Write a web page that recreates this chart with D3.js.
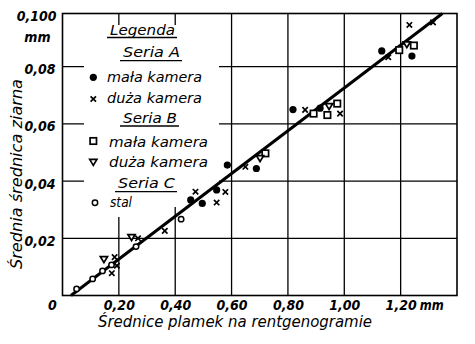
<!DOCTYPE html>
<html><head><meta charset="utf-8">
<script src="https://cdn.jsdelivr.net/npm/d3@7"></script>
<style>
html,body{margin:0;padding:0;background:#fff;}
svg{display:block;}
text{font-family:"DejaVu Sans Condensed","DejaVu Sans",sans-serif;font-style:italic;fill:#000;}
</style></head>
<body>
<svg id="chart" width="475" height="344"></svg>
<script>
// ---- data ----
const xTicks = [0.2, 0.4, 0.6, 0.8, 1.0, 1.2];
const xTickLabels = ["0,20", "0,40", "0,60", "0,80", "1,00", "1,20"];
const yTicks = [0.02, 0.04, 0.06, 0.08];
const yTickLabels = ["0,02", "0,04", "0,06", "0,08"];
const yTopLabel = "0,100";
const unitLabel = "mm";
const xTitle = "Średnice plamek na rentgenogramie";
const yTitle = "Średnia średnica ziarna";

const seriesA_mala_x = [0.455, 0.496, 0.547, 0.585, 0.688, 0.818, 0.914, 1.133, 1.240];
const seriesA_mala_y = [0.0334, 0.0322, 0.0369, 0.0456, 0.0444, 0.0650, 0.0655, 0.0855, 0.0837];
const seriesA_duza_x = [0.175, 0.193, 0.185, 0.268, 0.363, 0.472, 0.547, 0.578, 0.649, 0.861, 0.985, 1.156, 1.231, 1.315];
const seriesA_duza_y = [0.0078, 0.0104, 0.0134, 0.0200, 0.0226, 0.0363, 0.0325, 0.0362, 0.0450, 0.0649, 0.0636, 0.0833, 0.0946, 0.0955];
const seriesB_mala_x = [0.891, 0.940, 0.975, 0.720, 1.195, 1.247];
const seriesB_mala_y = [0.0636, 0.0631, 0.0671, 0.0497, 0.0858, 0.0874];
const seriesB_duza_x = [0.147, 0.245, 0.701, 0.946, 1.222];
const seriesB_duza_y = [0.0126, 0.0203, 0.0479, 0.0661, 0.0877];
const seriesC_stal_x = [0.050, 0.107, 0.142, 0.174, 0.261, 0.421];
const seriesC_stal_y = [0.0023, 0.0058, 0.0086, 0.0107, 0.0171, 0.0267];
const fitLine_x = [0.03, 1.348];
const fitLine_y = [0.0, 0.0986];

const legendHeads = ["Legenda", "Seria A", "Seria B", "Seria C"];
const legendItems = ["mała kamera", "duża kamera", "mała kamera", "duża kamera", "stal"];

// ---- layout ----
const W = 475, H = 344;
const L = 62.5, R = 457, T = 13.5, B = 295.5;
const x = d3.scaleLinear().domain([0, 1.4]).range([L, R]);
const y = d3.scaleLinear().domain([0, 0.0986]).range([B, T]);
const tickFont = '"DejaVu Sans Condensed","DejaVu Sans",sans-serif';

const svg = d3.select("#chart");
svg.append("rect").attr("width", W).attr("height", H).attr("fill", "#fff");

// grid
const grid = svg.append("g").attr("stroke", "#000").attr("stroke-width", 1.3);
grid.selectAll("line.v").data(xTicks).join("line")
  .attr("x1", d => x(d)).attr("x2", d => x(d)).attr("y1", T).attr("y2", B);
grid.selectAll("line.h").data(yTicks).join("line")
  .attr("y1", d => y(d)).attr("y2", d => y(d)).attr("x1", L).attr("x2", R);

// legend background mask
svg.append("rect").attr("x", 84).attr("y", 25).attr("width", 135).attr("height", 182).attr("fill", "#fff");
svg.append("rect").attr("x", 84).attr("y", 200).attr("width", 86).attr("height", 17).attr("fill", "#fff");

// frame
svg.append("rect").attr("x", L).attr("y", T).attr("width", R - L).attr("height", B - T)
  .attr("fill", "none").attr("stroke", "#000").attr("stroke-width", 1.6);

// axis tick labels via d3 axes
const xAxis = d3.axisBottom(x).tickValues(xTicks).tickSize(0).tickPadding(0)
  .tickFormat((d, i) => xTickLabels[i]);
const gx = svg.append("g").attr("transform", `translate(0,${B})`).call(xAxis);
gx.select(".domain").remove();
gx.selectAll("text").attr("y", 14.5).attr("dy", 0)
  .style("font-family", tickFont)
  .style("font-style", "italic").style("font-weight", "bold").style("font-size", "14px").attr("fill", "#000");

const yAxis = d3.axisLeft(y).tickValues(yTicks).tickSize(0).tickPadding(0)
  .tickFormat((d, i) => yTickLabels[i]);
const gy = svg.append("g").attr("transform", `translate(${L - 7},0)`).call(yAxis);
gy.select(".domain").remove();
gy.selectAll("text").attr("dy", "0.72em").attr("y", -3)
  .style("font-family", tickFont)
  .style("font-style", "italic").style("font-weight", "bold").style("font-size", "14px").attr("fill", "#000");

svg.append("text").attr("x", L - 6).attr("y", y.range()[1] + 7).attr("text-anchor", "end")
  .style("font-weight", "bold").style("font-size", "14px").text(yTopLabel);
svg.append("text").attr("x", L - 12).attr("y", y.range()[1] + 28).attr("text-anchor", "end")
  .style("font-weight", "bold").style("font-size", "14px").text(unitLabel);
svg.append("text").attr("x", x(0) - 10).attr("y", B + 14.5).attr("text-anchor", "middle")
  .style("font-weight", "bold").style("font-size", "14px").text("0");
svg.append("text").attr("x", x(1.2) + 19).attr("y", B + 14.5)
  .attr("textLength", 24).attr("lengthAdjust", "spacingAndGlyphs")
  .style("font-weight", "bold").style("font-size", "14px").text(unitLabel);

// axis titles
svg.append("text").attr("x", 98).attr("y", 327).attr("textLength", 274).attr("lengthAdjust", "spacingAndGlyphs")
  .style("font-size", "15px").text(xTitle);
svg.append("text").attr("transform", "translate(22,174) rotate(-90)").attr("text-anchor", "middle")
  .attr("textLength", 190).attr("lengthAdjust", "spacingAndGlyphs")
  .style("font-size", "16px").text(yTitle);

// markers
function zipXY(xs, ys) { return xs.map((v, i) => [v, ys[i]]); }
const crossPath = s => `M${-s},${-s}L${s},${s}M${-s},${s}L${s},${-s}`;
const triPath = s => `M${-s},${-s * 0.8}L${s},${-s * 0.8}L0,${s * 0.85}Z`;

function drawDot(g, px, py) { g.append("circle").attr("cx", px).attr("cy", py).attr("r", 3.6).attr("fill", "#000"); }
function drawCross(g, px, py) { g.append("path").attr("d", crossPath(2.7)).attr("transform", `translate(${px},${py})`).attr("stroke", "#000").attr("stroke-width", 1.7).attr("fill", "none"); }
function drawSquare(g, px, py) { g.append("rect").attr("x", px - 3.2).attr("y", py - 3.2).attr("width", 6.4).attr("height", 6.4).attr("stroke", "#000").attr("stroke-width", 1.7).attr("fill", "#fff"); }
function drawTri(g, px, py) { g.append("path").attr("d", triPath(3.6)).attr("transform", `translate(${px},${py})`).attr("stroke", "#000").attr("stroke-width", 1.7).attr("fill", "#fff"); }
function drawCirc(g, px, py) { g.append("circle").attr("cx", px).attr("cy", py).attr("r", 2.7).attr("stroke", "#000").attr("stroke-width", 1.5).attr("fill", "#fff"); }

// fit line
const line = d3.line().x(d => x(d[0])).y(d => y(d[1]));
svg.append("path").datum(zipXY(fitLine_x, fitLine_y)).attr("d", line)
  .attr("stroke", "#000").attr("stroke-width", 3).attr("fill", "none");

const pts = svg.append("g");
zipXY(seriesC_stal_x, seriesC_stal_y).forEach(d => drawCirc(pts, x(d[0]), y(d[1])));
zipXY(seriesB_mala_x, seriesB_mala_y).forEach(d => drawSquare(pts, x(d[0]), y(d[1])));
zipXY(seriesB_duza_x, seriesB_duza_y).forEach(d => drawTri(pts, x(d[0]), y(d[1])));
zipXY(seriesA_duza_x, seriesA_duza_y).forEach(d => drawCross(pts, x(d[0]), y(d[1])));
zipXY(seriesA_mala_x, seriesA_mala_y).forEach(d => drawDot(pts, x(d[0]), y(d[1])));

// legend
const lg = svg.append("g");
const heads = [
  {t: legendHeads[0], x: 110, y: 35, w: 65, ul: 37.5, fs: 14},
  {t: legendHeads[1], x: 123, y: 57, w: 57, ul: 60.7, fs: 14},
  {t: legendHeads[2], x: 123, y: 122.5, w: 54, ul: 126, fs: 14},
  {t: legendHeads[3], x: 118, y: 188.3, w: 57, ul: 191.7, fs: 14}
];
heads.forEach(h => {
  lg.append("text").attr("x", h.x).attr("y", h.y).attr("textLength", h.w).attr("lengthAdjust", "spacingAndGlyphs")
    .style("font-size", h.fs + "px").text(h.t);
  lg.append("line").attr("x1", h.x - 3).attr("x2", h.x + h.w + 2).attr("y1", h.ul).attr("y2", h.ul)
    .attr("stroke", "#000").attr("stroke-width", 1.3);
});
const items = [
  {x: 107, y: 81.5, w: 95, mk: drawDot, my: 77.3, mx: 93.3},
  {x: 107, y: 103, w: 95, mk: drawCross, my: 99, mx: 93.3},
  {x: 109, y: 147.3, w: 99, mk: drawSquare, my: 141, mx: 93.3},
  {x: 109, y: 166.7, w: 99, mk: drawTri, my: 162.3, mx: 93.3},
  {x: 110, y: 206.5, w: 22, mk: drawCirc, my: 202.7, mx: 95}
];
items.forEach((it, i) => {
  it.mk(lg, it.mx, it.my);
  lg.append("text").attr("x", it.x).attr("y", it.y).attr("textLength", it.w).attr("lengthAdjust", "spacingAndGlyphs")
    .style("font-size", "13.5px").text(legendItems[i]);
});
</script>
</body></html>
